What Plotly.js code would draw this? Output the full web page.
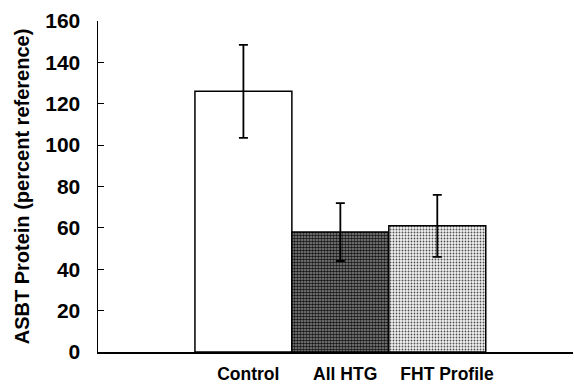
<!DOCTYPE html>
<html>
<head>
<meta charset="utf-8">
<script src="https://cdn.plot.ly/plotly-3.0.1.min.js"></script>
<style>html,body{margin:0;padding:0;background:#fff;}#chart{width:574px;height:392px;}</style>
</head>
<body>
<div id="chart"></div>
<script>
const categories = ["Control", "All HTG", "FHT Profile"];
const values = [126, 58, 61];
const errors = [22.5, 14, 15];
const yTickVals = [0, 20, 40, 60, 80, 100, 120, 140, 160];

const fills = [
  {color: "#ffffff", pattern: {shape: ""}},
  {color: "#6a6a6a", pattern: {shape: ".", fgcolor: "#161616", bgcolor: "#8e8e8e", size: 3, solidity: 0.6}},
  {color: "#dddddd", pattern: {shape: ".", fgcolor: "#505050", bgcolor: "#f2f2f2", size: 3, solidity: 0.3}}
];

const traces = categories.map((c, i) => ({
  type: "bar",
  x: [i],
  y: [values[i]],
  width: 1,
  marker: {
    color: fills[i].color,
    pattern: fills[i].pattern,
    line: {color: "#000", width: 1.5}
  },
  error_y: {type: "data", array: [errors[i]], visible: true, color: "#000", thickness: 1.8, width: 4.5},
  showlegend: false,
  hoverinfo: "none"
}));

const fam = "Liberation Sans, Arial, sans-serif";

const layout = {
  width: 574, height: 392,
  margin: {l: 98, r: 1, t: 21, b: 40},
  paper_bgcolor: "#fff", plot_bgcolor: "#fff",
  barmode: "overlay",
  font: {family: fam, size: 16, color: "#000", weight: "bold"},
  xaxis: {
    range: [-1.5, 3.4],
    tickvals: [0.05, 1.05, 2.1],
    ticktext: categories,
    ticks: "",
    showgrid: false, zeroline: false,
    showline: true, linecolor: "#000", linewidth: 1.5,
    ticklabelstandoff: 5,
    tickfont: {family: fam, size: 17.5, color: "#000", weight: "bold"},
    fixedrange: true
  },
  yaxis: {
    range: [0, 160],
    tickvals: yTickVals,
    ticktext: yTickVals.map(String),
    ticks: "inside", ticklen: 6, tickwidth: 1.2, tickcolor: "#000",
    showgrid: false, zeroline: false,
    showline: true, linecolor: "#000", linewidth: 1.5,
    ticklabelstandoff: 12,
    tickfont: {family: fam, size: 21, color: "#000", weight: "bold"},
    title: {text: "ASBT Protein (percent reference)", standoff: 10,
            font: {family: fam, size: 20, color: "#000", weight: "bold"}},
    fixedrange: true
  }
};

Plotly.newPlot("chart", traces, layout, {displayModeBar: false, staticPlot: true});
</script>
</body>
</html>
